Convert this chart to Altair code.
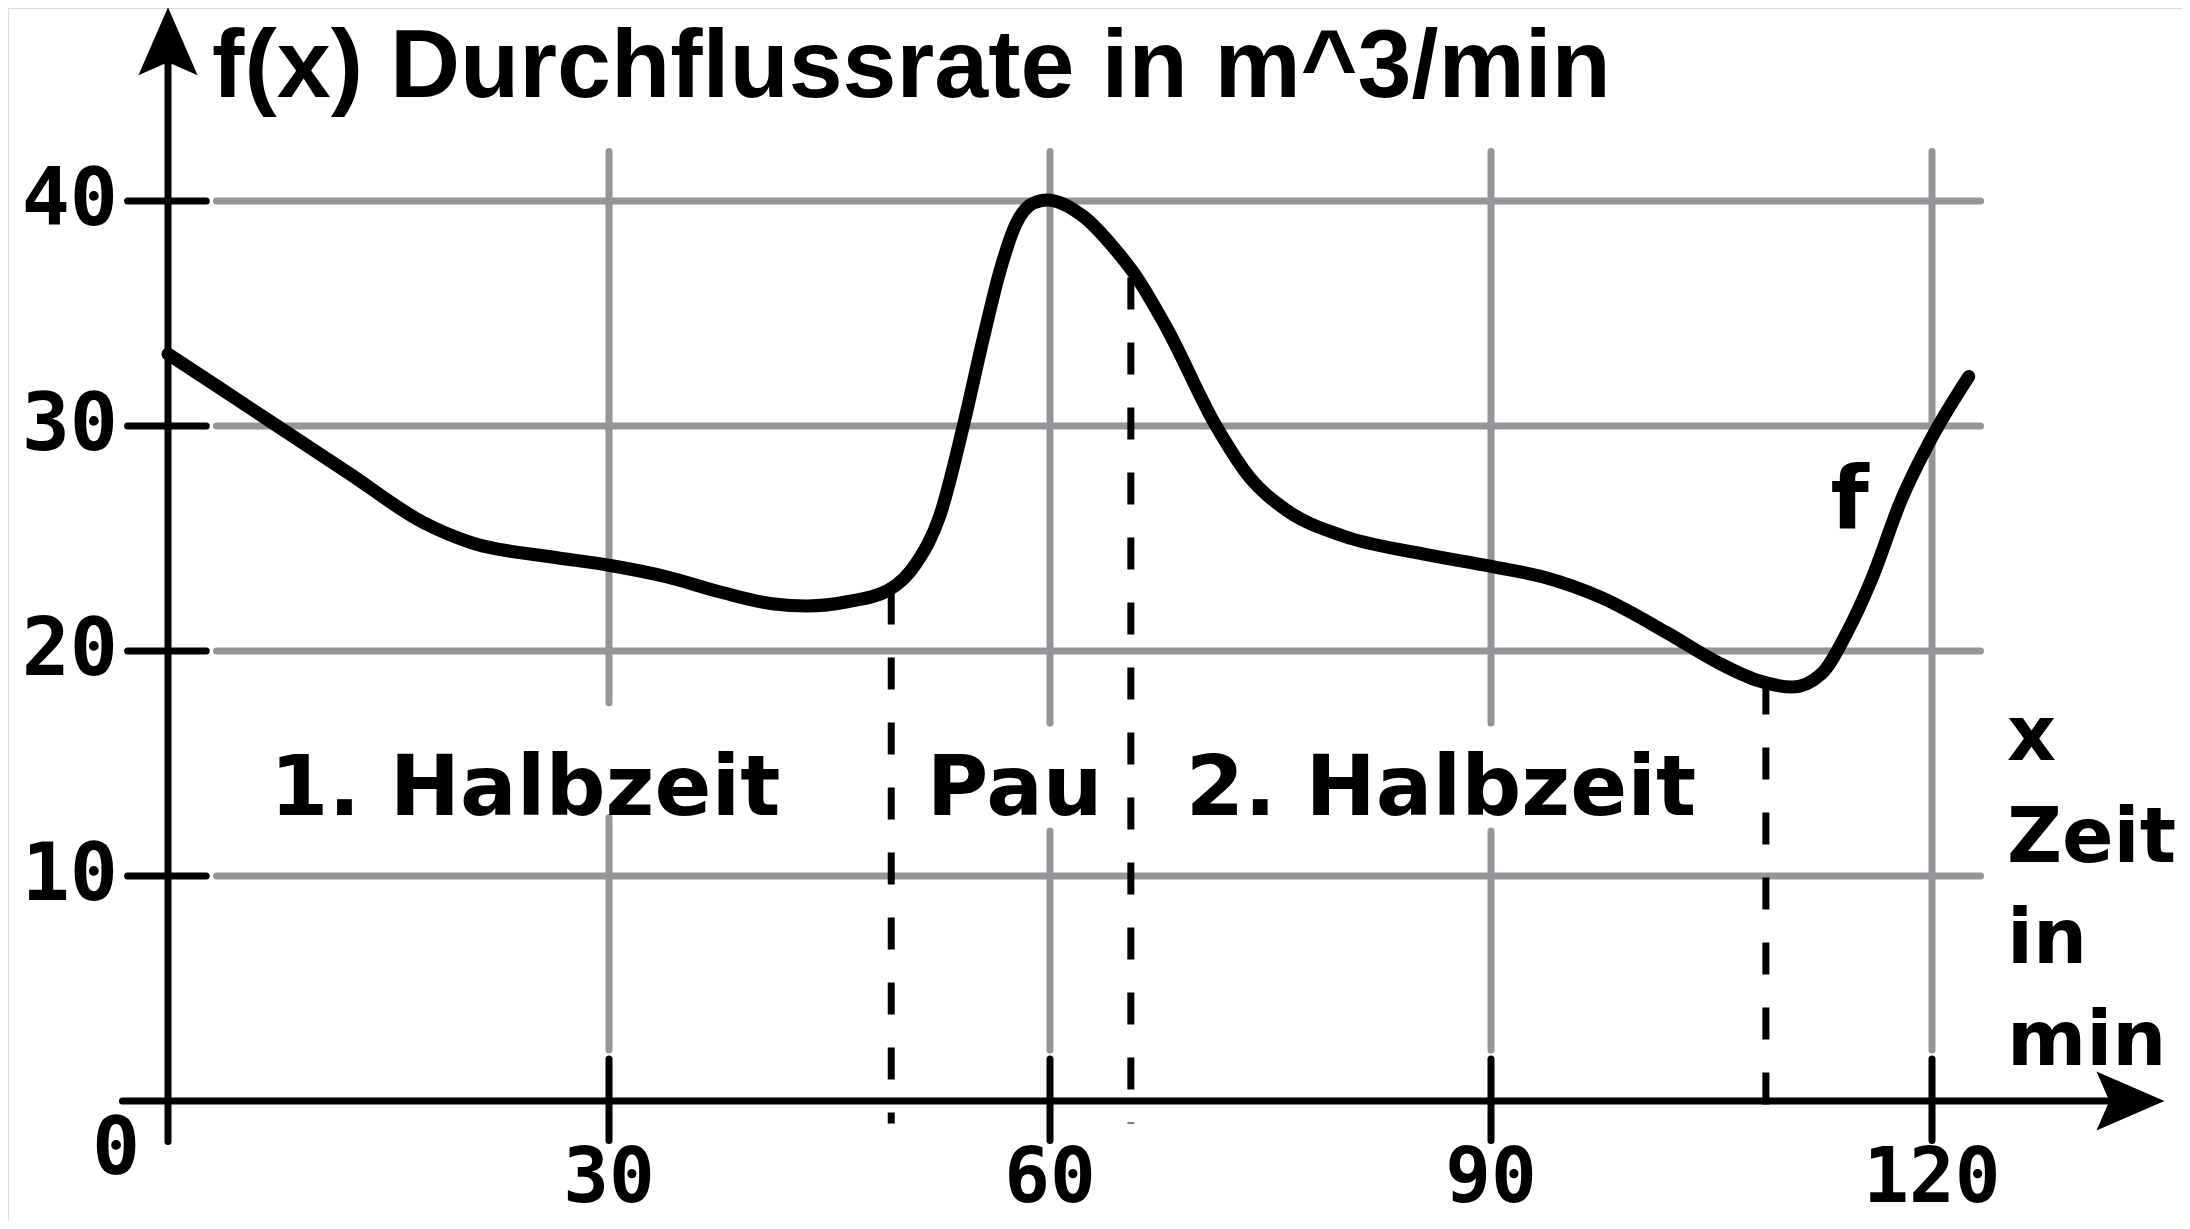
import altair as alt
import pandas as pd

# ---------------- data ----------------
curve_x = [0, 3.5, 7.2, 12.3, 17.4, 20.7, 25.9, 30.1, 33.9, 37.7, 41.1, 43.5, 46.3, 49.0,
           50.9, 52.5, 54.1, 55.5, 56.6, 57.7, 58.85, 59.8, 62.3, 64.5, 65.7, 67.9, 71.3,
           73.6, 76.0, 80.0, 85.1, 90.1, 93.5, 97.6, 102.0, 105.4, 108.1, 110.5, 112.5,
           114.2, 115.9, 117.9, 120.0, 122.5]
curve_y = [33.2, 31.7, 30.1, 27.9, 25.7, 24.8, 24.2, 23.8, 23.3, 22.6, 22.1, 22.0, 22.2, 22.7,
           23.9, 26.0, 30.0, 34.0, 36.9, 39.0, 39.9, 40.05, 39.3, 37.8, 36.8, 34.4, 30.0,
           27.7, 26.3, 25.1, 24.35, 23.75, 23.3, 22.35, 20.8, 19.5, 18.7, 18.4, 19.0,
           20.8, 23.2, 26.7, 29.5, 32.2]

y_ticks = [10, 20, 30, 40]
y_tick_labels = ["10", "20", "30", "40"]
x_ticks = [30, 60, 90, 120]
x_tick_labels = ["30", "60", "90", "120"]

# vertical grid segments (x, top, bottom) - gaps where the phase labels sit
vgrid_x = [30, 30, 60, 60, 90, 90, 120]
vgrid_top = [42.2, 12.6, 42.2, 12.0, 42.2, 12.0, 42.2]
vgrid_bot = [17.7, 2.27, 16.8, 2.27, 16.8, 2.27, 2.27]

dash_x = [49.2, 65.5, 108.7]
dash_top = [22.6, 36.6, 18.6]

phase_labels = ["1. Halbzeit", "Pau", "2. Halbzeit"]
phase_x = [24.3, 57.6, 86.6]
phase_y = [12.7, 12.7, 12.7]

xlabel_lines = ["x", "Zeit", "in", "min"]
xlabel_y = [15.16, 10.62, 6.13, 1.6]

title_text = "f(x) Durchflussrate in m^3/min"

# ---------------- layout ----------------
W, H = 2174, 1213
PXX, PXY = 441 / 30, 225 / 10
OX, OY = 168, 1101
x_min = (8 - OX) / PXX
x_max = x_min + W / PXX
y_max = (OY - 8) / PXY
y_min = y_max - H / PXY

xs = alt.Scale(domain=[x_min, x_max], nice=False, zero=False)
ys = alt.Scale(domain=[y_min, y_max], nice=False, zero=False)


def X(f):
    return alt.X(f, type="quantitative", scale=xs, axis=None)


def Y(f):
    return alt.Y(f, type="quantitative", scale=ys, axis=None)


GRAY = "#939598"

# horizontal grid
hgrid = alt.Chart(pd.DataFrame({"y": y_ticks, "x0": [3.3] * 4, "x1": [123.3] * 4})).mark_rule(
    color=GRAY, strokeWidth=7, strokeCap="round").encode(x=X("x0"), x2="x1", y=Y("y"))

vgrid = alt.Chart(pd.DataFrame({"x": vgrid_x, "y0": vgrid_top, "y1": vgrid_bot})).mark_rule(
    color=GRAY, strokeWidth=7, strokeCap="round").encode(x=X("x"), y=Y("y0"), y2="y1")

# ticks
yticks = alt.Chart(pd.DataFrame({"y": y_ticks, "x0": [-2.75] * 4, "x1": [2.6] * 4})).mark_rule(
    color="black", strokeWidth=7, strokeCap="round").encode(x=X("x0"), x2="x1", y=Y("y"))
xticks = alt.Chart(pd.DataFrame({"x": x_ticks, "y0": [1.87] * 4, "y1": [-1.75] * 4})).mark_rule(
    color="black", strokeWidth=7, strokeCap="round").encode(x=X("x"), y=Y("y0"), y2="y1")

# axis lines
xaxis = alt.Chart(pd.DataFrame({"y": [0], "x0": [-3.1], "x1": [132.5]})).mark_rule(
    color="black", strokeWidth=7, strokeCap="round").encode(x=X("x0"), x2="x1", y=Y("y"))
yaxis = alt.Chart(pd.DataFrame({"x": [0], "y0": [-1.8], "y1": [46.5]})).mark_rule(
    color="black", strokeWidth=7, strokeCap="round").encode(x=X("x"), y=Y("y0"), y2="y1")

ARROW = "M0,-1 L0.87,1 L0,0.62 L-0.87,1 Z"
arrows = alt.Chart(pd.DataFrame({"x": [0, 133.5], "y": [47.1, 0], "a": [0, 90]})).mark_point(
    shape=ARROW, filled=True, color="black", opacity=1, size=68 * 68, strokeWidth=0).encode(
    x=X("x"), y=Y("y"), angle=alt.Angle("a:Q", scale=None))

# dashed lines
dashes = alt.Chart(pd.DataFrame({"x": dash_x, "y0": dash_top, "y1": [-1.0] * 3})).mark_rule(
    color="black", strokeWidth=7, strokeDash=[32, 33]).encode(x=X("x"), y=Y("y0"), y2="y1")

# curve
curve = alt.Chart(pd.DataFrame({"x": curve_x, "y": curve_y})).mark_line(
    color="black", strokeWidth=13, interpolate="monotone", strokeCap="round",
    strokeJoin="round").encode(x=X("x"), y=Y("y"), order=alt.Order("x:Q"))

# texts
ylab = alt.Chart(pd.DataFrame({"y": y_ticks, "t": y_tick_labels, "x": [-3.4] * 4})).mark_text(
    font="DejaVu Sans Mono", fontWeight="bold", fontSize=80, align="right", baseline="middle",
    color="black").encode(x=X("x"), y=Y("y"), text="t:N")
xlab = alt.Chart(pd.DataFrame({"x": x_ticks, "t": x_tick_labels, "y": [-3.45] * 4})).mark_text(
    font="DejaVu Sans Mono", fontWeight="bold", fontSize=76, align="center", baseline="middle",
    color="black").encode(x=X("x"), y=Y("y"), text="t:N")
zlab = alt.Chart(pd.DataFrame({"x": [-3.54], "y": [-2.18], "t": ["0"]})).mark_text(
    font="DejaVu Sans Mono", fontWeight="bold", fontSize=80, align="center", baseline="middle",
    color="black").encode(x=X("x"), y=Y("y"), text="t:N")

title = alt.Chart(pd.DataFrame({"x": [3.0], "y": [44.62], "t": [title_text]})).mark_text(
    font="Liberation Sans", fontWeight="bold", fontSize=97, align="left", baseline="alphabetic",
    color="black").encode(x=X("x"), y=Y("y"), text="t:N")

phases = alt.Chart(pd.DataFrame({"x": phase_x, "y": phase_y, "t": phase_labels})).mark_text(
    font="DejaVu Sans", fontWeight="bold", fontSize=84, align="center", baseline="alphabetic",
    color="black").encode(x=X("x"), y=Y("y"), text="t:N")

xname = alt.Chart(pd.DataFrame({"x": [125.1] * 4, "y": xlabel_y, "t": xlabel_lines})).mark_text(
    font="DejaVu Sans", fontWeight="bold", fontSize=76, align="left", baseline="alphabetic",
    color="black").encode(x=X("x"), y=Y("y"), text="t:N")

flab = alt.Chart(pd.DataFrame({"x": [113.1], "y": [25.47], "t": ["f"]})).mark_text(
    font="DejaVu Sans", fontWeight="bold", fontSize=88, align="left", baseline="alphabetic",
    color="black").encode(x=X("x"), y=Y("y"), text="t:N")

chart = alt.layer(
    hgrid, vgrid, yticks, xticks, xaxis, yaxis, arrows, dashes, curve,
    ylab, xlab, zlab, title, phases, xname, flab
).properties(
    width=W, height=H, padding=0, autosize=alt.AutoSizeParams(type="none")
).configure_view(stroke=None).configure(background="white")

chart.save("out.html", embed_options={"renderer": "svg", "actions": False})
